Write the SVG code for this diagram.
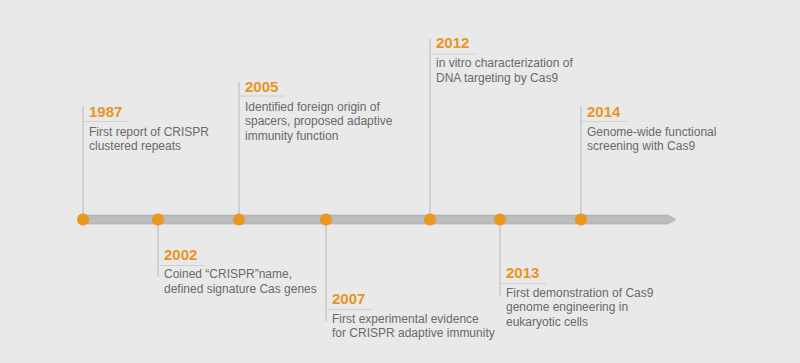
<svg xmlns="http://www.w3.org/2000/svg" width="800" height="363" viewBox="0 0 800 363">
<style>
.bg{fill:#e9e9e9}
.bar{fill:#babdbc;stroke:#a9acab;stroke-width:0.6}
.dot{fill:#eb961c}
.lead{stroke:#c9c9c9;stroke-width:1.5;fill:none}
.rule{stroke:#d0d0d0;stroke-width:1;fill:none}
.yr{font-family:"Liberation Sans",Arial,sans-serif;font-weight:bold;font-size:15px;fill:#e8951f}
.tx{font-family:"Liberation Sans",Arial,sans-serif;font-size:12px;fill:#6a6a6a}
</style>
<rect class="bg" x="0" y="0" width="800" height="363"/>
<g id="connectors">
<line class="lead" x1="83" y1="106" x2="83" y2="219"/>
<line class="lead" x1="158" y1="219" x2="158" y2="277"/>
<line class="lead" x1="239" y1="82" x2="239" y2="219"/>
<line class="lead" x1="326" y1="219" x2="326" y2="321"/>
<line class="lead" x1="430" y1="39" x2="430" y2="219"/>
<line class="lead" x1="500" y1="219" x2="500" y2="296"/>
<line class="lead" x1="581" y1="106" x2="581" y2="219"/>
</g>
<g id="timeline">
<polygon class="bar" points="80,215 668,215 676,219.5 668,224 80,224"/>
</g>
<g id="e1987">
<circle class="dot" cx="83" cy="219.5" r="6"/>
<line class="rule" x1="83" y1="121.5" x2="129" y2="121.5"/>
<text class="yr" x="89" y="116.5">1987</text>
<text class="tx" x="89" y="135.5">First report of CRISPR</text>
<text class="tx" x="89" y="150">clustered repeats</text>
</g>
<g id="e2002">
<circle class="dot" cx="158" cy="219.5" r="6"/>
<line class="rule" x1="158" y1="265.5" x2="204" y2="265.5"/>
<text class="yr" x="164" y="259.5">2002</text>
<text class="tx" x="164" y="278">Coined “CRISPR”name,</text>
<text class="tx" x="164" y="292.5">defined signature Cas genes</text>
</g>
<g id="e2005">
<circle class="dot" cx="239" cy="219.5" r="6"/>
<line class="rule" x1="239" y1="96" x2="285" y2="96"/>
<text class="yr" x="245" y="92">2005</text>
<text class="tx" x="245" y="110.5">Identified foreign origin of</text>
<text class="tx" x="245" y="125">spacers, proposed adaptive</text>
<text class="tx" x="245" y="139.5">immunity function</text>
</g>
<g id="e2007">
<circle class="dot" cx="326" cy="219.5" r="6"/>
<line class="rule" x1="326" y1="309.5" x2="373" y2="309.5"/>
<text class="yr" x="332" y="304">2007</text>
<text class="tx" x="332" y="322.5">First experimental evidence</text>
<text class="tx" x="332" y="337">for CRISPR adaptive immunity</text>
</g>
<g id="e2012">
<circle class="dot" cx="430" cy="219.5" r="6"/>
<line class="rule" x1="430" y1="54" x2="477" y2="54"/>
<text class="yr" x="436" y="48">2012</text>
<text class="tx" x="436" y="67">in vitro characterization of</text>
<text class="tx" x="436" y="81.5">DNA targeting by Cas9</text>
</g>
<g id="e2013">
<circle class="dot" cx="500" cy="219.5" r="6"/>
<line class="rule" x1="500" y1="283.5" x2="546" y2="283.5"/>
<text class="yr" x="506" y="278">2013</text>
<text class="tx" x="506" y="296.5">First demonstration of Cas9</text>
<text class="tx" x="506" y="311">genome engineering in</text>
<text class="tx" x="506" y="325.5">eukaryotic cells</text>
</g>
<g id="e2014">
<circle class="dot" cx="581" cy="219.5" r="6"/>
<line class="rule" x1="581" y1="121.5" x2="627" y2="121.5"/>
<text class="yr" x="587" y="116.5">2014</text>
<text class="tx" x="587" y="135.5">Genome-wide functional</text>
<text class="tx" x="587" y="150">screening with Cas9</text>
</g>
</svg>
